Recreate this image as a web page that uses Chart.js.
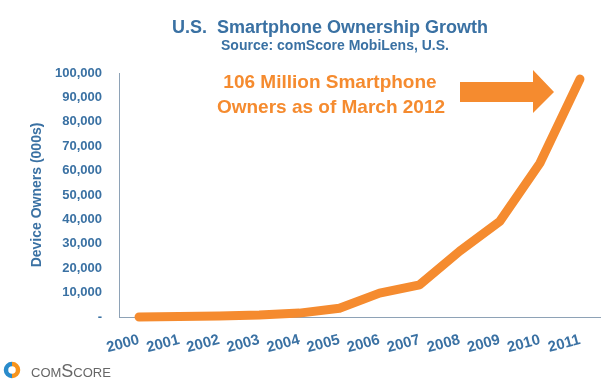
<!DOCTYPE html>
<html>
<head>
<meta charset="utf-8">
<script src="https://cdn.jsdelivr.net/npm/chart.js@4/dist/chart.umd.min.js"></script>
<style>
	html, body { margin: 0; padding: 0; background: #fff; }
	#box { width: 614px; height: 386px; }
</style>
</head>
<body>
<div id="box"><canvas id="graficoSmartphones" width="614" height="386"></canvas></div>
<script>
var anos = ['2000', '2001', '2002', '2003', '2004', '2005', '2006', '2007', '2008', '2009', '2010', '2011'];
var donos = [0, 200, 450, 800, 1600, 3600, 9800, 13200, 27000, 39200, 63000, 97500];
var valoresEixoY = [0, 10000, 20000, 30000, 40000, 50000, 60000, 70000, 80000, 90000, 100000];

var azul = '#3a71a3';
var laranja = '#f58b2f';

var textos = {
	id: 'textos',
	afterDraw: function(chart) {
		var ctx = chart.ctx;
		ctx.save();
		ctx.textAlign = 'center';
		ctx.textBaseline = 'alphabetic';

		ctx.fillStyle = azul;
		ctx.font = 'bold 18px "Liberation Sans", Arial, sans-serif';
		ctx.fillText('U.S.  Smartphone Ownership Growth', 330, 33);
		ctx.font = 'bold 14px "Liberation Sans", Arial, sans-serif';
		ctx.fillText('Source: comScore MobiLens, U.S.', 335, 50);

		ctx.fillStyle = laranja;
		ctx.font = 'bold 19px "Liberation Sans", Arial, sans-serif';
		ctx.fillText('106 Million Smartphone', 330, 88);
		ctx.fillText('Owners as of March 2012', 331, 113);

		// seta
		ctx.beginPath();
		ctx.moveTo(460, 82);
		ctx.lineTo(533, 82);
		ctx.lineTo(533, 70);
		ctx.lineTo(554, 92);
		ctx.lineTo(533, 113);
		ctx.lineTo(533, 102);
		ctx.lineTo(460, 102);
		ctx.closePath();
		ctx.fill();

		// logo comScore
		ctx.lineWidth = 4.5;
		ctx.beginPath();
		ctx.strokeStyle = '#2a8bcb';
		ctx.arc(12, 370, 6, Math.PI * 0.5, Math.PI * 1.5);
		ctx.stroke();
		ctx.beginPath();
		ctx.strokeStyle = '#f7941d';
		ctx.arc(12, 370, 6, Math.PI * 1.5, Math.PI * 0.5);
		ctx.stroke();

		ctx.fillStyle = '#666';
		ctx.textAlign = 'left';
		ctx.font = 'small-caps 18px "Liberation Sans", Arial, sans-serif';
		ctx.fillText('comScore', 31, 377);
		ctx.restore();
	}
};

var grafico = new Chart(document.getElementById('graficoSmartphones').getContext('2d'), {
	type: 'line',
	data: {
		labels: anos,
		datasets: [{
			data: donos,
			borderColor: laranja,
			borderWidth: 9,
			borderCapStyle: 'round',
			borderJoinStyle: 'round',
			pointRadius: 0,
			tension: 0,
			fill: false,
			clip: false
		}]
	},
	options: {
		responsive: false,
		animation: false,
		layout: { padding: { top: 73, right: 14, left: 0, bottom: 0 } },
		plugins: {
			legend: { display: false },
			tooltip: { enabled: false }
		},
		scales: {
			x: {
				offset: true,
				afterFit: function(escala) { escala.height = 69; },
				grid: { display: false, drawTicks: false, offset: true },
				border: { color: '#8ea2b6', width: 1 },
				ticks: {
					color: azul,
					font: { family: '"Liberation Sans", Arial, sans-serif', size: 15, weight: 'bold' },
					minRotation: 15,
					maxRotation: 15,
					autoSkip: false,
					padding: 14
				}
			},
			y: {
				min: 0,
				max: 100000,
				afterFit: function(escala) { escala.width = 119; },
				afterBuildTicks: function(escala) {
					escala.ticks = valoresEixoY.map(function(v) { return { value: v }; });
				},
				grid: { display: false, drawTicks: false },
				border: { color: '#8ea2b6', width: 1 },
				title: {
					display: true,
					text: 'Device Owners (000s)',
					color: azul,
					font: { family: '"Liberation Sans", Arial, sans-serif', size: 14, weight: 'bold' },
					padding: { top: 29, bottom: 0 }
				},
				ticks: {
					color: azul,
					font: { family: '"Liberation Sans", Arial, sans-serif', size: 13, weight: 'bold' },
					padding: 17,
					callback: function(valor) {
						return valor === 0 ? '-' : valor.toLocaleString('en-US');
					}
				}
			}
		}
	},
	plugins: [textos]
});
</script>
</body>
</html>
